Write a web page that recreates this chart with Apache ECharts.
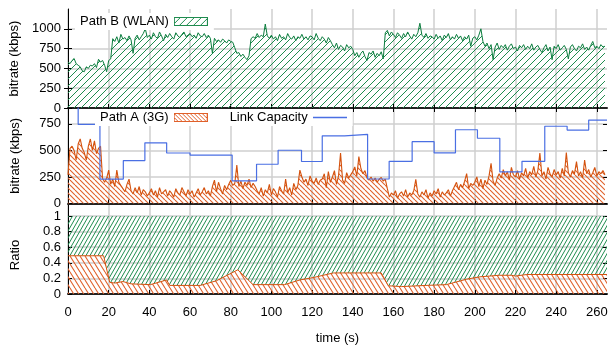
<!DOCTYPE html>
<html>
<head>
<meta charset="utf-8">
<script src="https://cdn.jsdelivr.net/npm/echarts@6/dist/echarts.min.js"></script>
<style>
html, body { margin: 0; padding: 0; background: #fff; }
#chart { width: 613px; height: 346px; }
</style>
</head>
<body>
<div id="chart"></div>
<script>
// one sample per second, t = 0 .. 264
var wlanKbps = [
    580, 560, 600, 625, 560, 540, 520, 470, 458, 520, 500, 540, 530, 560, 510, 615, 580, 600, 540, 458, 600, 620,
    875, 840, 900, 820, 930, 870, 890, 850, 910, 860, 690, 880, 920, 860, 900, 940, 1000, 890,
    920, 870, 950, 900, 880, 960, 910, 850, 930, 890, 940, 900, 870, 950, 910, 890, 930, 960, 900, 920,
    940, 900, 920, 880, 950, 910, 900, 940, 890, 920, 880, 690, 880, 840, 860, 830, 870, 850, 820, 860, 840, 830,
    760, 690, 700, 650, 680, 640, 610, 660,
    875, 900, 880, 940, 890, 920, 900, 1060, 910, 880,
    920, 870, 900, 850, 930, 880, 900, 860, 940, 890, 870, 910, 850, 900, 880, 930, 870, 900, 860, 910,
    900, 860, 940, 880, 850, 900, 870, 820, 890, 850,
    800, 760, 820, 740, 790, 770, 720, 800, 760, 780,
    740, 660, 700, 640, 690, 720, 650, 600, 700, 680, 720, 640, 690, 660, 710, 620,
    950, 980, 910, 960, 930, 890, 950, 920, 880, 940, 900, 960, 910, 870, 930, 900, 950, 1070, 920, 890, 940, 880, 910,
    900, 870, 930, 880, 910, 850, 920, 890, 940, 860, 900, 870, 930, 880, 910, 850, 900, 870, 920, 780, 880, 900, 860, 920, 1000,
    840, 780, 820, 750, 800, 610, 770, 820, 740, 790, 760, 800, 730, 780, 810, 750, 770, 720, 790, 760,
    800, 740, 780, 750, 810, 730, 770, 790, 740, 700, 760, 800, 720, 770, 610, 780, 750, 800, 730, 760,
    790, 740, 620, 770, 800, 750, 720, 780, 760, 810, 740, 770, 730, 790, 840, 760, 780, 750, 800, 770, 780
];
var g3Kbps = [
    270, 520, 540, 500, 410, 560, 608, 520, 480, 410, 540, 608, 500, 590, 470, 520, 540,
    235, 200, 240, 315, 180, 230, 160, 315, 200, 170,
    140, 110, 180, 230, 120, 90, 150, 100, 160, 80, 130, 110, 70,
    100, 140, 80, 120, 60, 150, 90, 110, 130, 70, 120, 95, 60, 140, 100, 80, 150, 110, 70, 130,
    90, 120, 60, 100, 140, 80, 110, 150, 90, 120, 70, 160, 220, 110, 200, 140, 90, 170, 130, 180,
    220, 170, 190, 362, 160, 210, 140, 200, 170, 230, 150, 190, 160,
    120, 90, 150, 70, 130, 100, 180, 80, 140, 110, 60, 160, 120, 90, 230, 100, 150, 80, 190, 130, 170, 315,
    250, 200, 230, 170, 260, 210, 190, 240, 180, 220,
    230, 280, 150, 300, 200, 250, 310, 180, 260, 475, 220, 190, 290, 240, 270,
    300, 345, 260, 442, 330, 280, 310,
    240, 220, 250, 210, 240, 200, 230, 245, 210, 230,
    140, 60, 100, 80, 120, 50, 90, 110, 70, 130, 60, 100, 80, 120, 228, 90, 60, 110, 80, 130,
    50, 100, 70, 120, 90, 140, 60, 110, 80, 100, 130, 70, 120,
    160, 200, 130, 180, 150, 210, 282, 140, 190, 170,
    200, 250, 160, 230, 140, 220, 180, 260, 378, 210, 170, 240,
    280, 240, 320, 260, 300, 220, 340, 270, 250, 310, 230, 290, 260, 330, 240, 300, 270, 350, 250, 310,
    475, 260, 300, 230, 340, 280, 250, 320, 270, 300, 240, 330, 260, 480, 290, 250, 310, 280, 394, 260,
    300, 240, 410, 280, 320, 250, 290, 340, 260, 300, 280, 310, 270
];
// link capacity steps (value holds from each time on)
var capTime = [0, 5, 15.7, 27.2, 37.8, 48.5, 60, 80.7, 92.7, 103.3, 114.8, 125, 136, 147.3, 157.9, 169.2, 180, 190.5, 201.3, 212.3, 223.2, 234.4, 245.4, 256, 265];
var capKbps = [1000, 745, 230, 405, 572, 476, 456, 214, 370, 502, 396, 638, 652, 231, 397, 583, 478, 695, 615, 298, 397, 728, 692, 786, 786];
// share of path A (3G); path B fills the rest up to 1
var ratioTime = [0, 17.5, 20.5, 23, 27, 31, 40.5, 48.5, 50, 65, 73, 83.5, 91, 106.5, 114, 120.5, 130.5, 154, 157.5, 164, 176, 186, 196, 202.5, 212, 218, 220, 225.5, 265];
var ratioA = [0.49, 0.49, 0.15, 0.14, 0.16, 0.13, 0.12, 0.18, 0.11, 0.11, 0.17, 0.31, 0.12, 0.12, 0.18, 0.21, 0.27, 0.27, 0.105, 0.095, 0.11, 0.12, 0.19, 0.22, 0.24, 0.24, 0.23, 0.25, 0.25];

var xTicks = [0, 20, 40, 60, 80, 100, 120, 140, 160, 180, 200, 220, 240, 260];
var y1Ticks = [0, 250, 500, 750, 1000];
var y2Ticks = [0, 250, 500, 750];
var y3Ticks = [0, 0.2, 0.4, 0.6, 0.8, 1];

var FONT = 'Liberation Sans';
var GREEN = '#0b7d3e';
var ORANGE = '#d4520e';
var BLUE = '#4a6fe3';
var HGREEN = '#1f8c4f';
var HORANGE = '#e0602a';

// diagonal hatch tile, dir 1 = '/', -1 = '\'
function hatch(color, w, h, dir, lw) {
    var c = document.createElement('canvas');
    c.width = w; c.height = h;
    var ctx = c.getContext('2d');
    ctx.strokeStyle = color;
    ctx.lineWidth = lw;
    for (var k = -1; k <= 1; k++) {
        ctx.beginPath();
        if (dir > 0) { ctx.moveTo(k * w, h); ctx.lineTo(k * w + w, 0); }
        else { ctx.moveTo(k * w, 0); ctx.lineTo(k * w + w, h); }
        ctx.stroke();
    }
    return c;
}
function swatch(color, w, h, dir) {
    var c = document.createElement('canvas');
    c.width = 34; c.height = 9;
    var ctx = c.getContext('2d');
    ctx.fillStyle = ctx.createPattern(hatch(color, w, h, dir, 1), 'repeat');
    ctx.fillRect(0, 0, 34, 9);
    ctx.strokeStyle = color;
    ctx.lineWidth = 1;
    ctx.strokeRect(0.5, 0.5, 33, 8);
    return 'image://' + c.toDataURL();
}
function lineIcon(color) {
    var c = document.createElement('canvas');
    c.width = 34; c.height = 9;
    var ctx = c.getContext('2d');
    ctx.strokeStyle = color;
    ctx.lineWidth = 1.3;
    ctx.beginPath(); ctx.moveTo(0, 4.5); ctx.lineTo(34, 4.5); ctx.stroke();
    return 'image://' + c.toDataURL();
}

var wlanData = wlanKbps.map(function (v, i) { return [i, v]; });
var g3Data = g3Kbps.map(function (v, i) { return [i, v]; });
var capData = capKbps.map(function (v, i) { return [capTime[i], v]; });
var ratioData = ratioA.map(function (v, i) { return [ratioTime[i], v]; });

var txt = { fontFamily: FONT, fontSize: 13, color: '#000' };
var grids = [
    { left: 68, right: 6, top: 9, height: 99 },
    { left: 68, right: 6, top: 108, height: 95.5 },
    { left: 68, right: 6, top: 216, height: 83 },
    { left: 68, right: 6, top: 204, height: 12 }   // empty band above ratio 1
];

function noFmt(v) { return String(v); }

function xAxisFor(g, withLabels) {
    return {
        type: 'value', gridIndex: g, min: 0, max: 265, interval: 20,
        name: withLabels ? 'time (s)' : '', nameLocation: 'middle', nameGap: 38,
        nameTextStyle: txt,
        axisLine: { show: true, onZero: false, lineStyle: { color: '#222', width: 2 } },
        axisTick: { show: true, inside: true, length: 4, customValues: xTicks, lineStyle: { color: '#000' } },
        axisLabel: { show: withLabels, customValues: xTicks, margin: 12, fontFamily: FONT, fontSize: 13, color: '#000', formatter: noFmt },
        splitLine: { show: true, lineStyle: { color: '#cfcfcf', width: 1.5 } }
    };
}
function yLeft(g, max, interval, ticks, name) {
    return {
        type: 'value', gridIndex: g, min: 0, max: max, interval: interval,
        name: name, nameLocation: 'middle', nameGap: 46, nameTextStyle: txt,
        axisLine: { show: true, lineStyle: { color: '#000', width: 1 } },
        axisTick: { show: true, inside: true, length: 4, customValues: ticks, lineStyle: { color: '#000' } },
        axisLabel: { customValues: ticks, margin: 7, fontFamily: FONT, fontSize: 13, color: '#000', formatter: noFmt },
        splitLine: { show: true, lineStyle: { color: '#cfcfcf', width: 1.5 } }
    };
}
function yRight(g, max, interval, ticks) {
    return {
        type: 'value', gridIndex: g, position: 'right', min: 0, max: max, interval: interval,
        axisLine: { show: false },
        axisTick: { show: true, inside: true, length: 4, customValues: ticks, lineStyle: { color: '#000' } },
        axisLabel: { show: false },
        splitLine: { show: false }
    };
}

var chart = echarts.init(document.getElementById('chart'));
chart.setOption({
    animation: false,
    backgroundColor: '#fff',
    grid: grids,
    xAxis: [
        xAxisFor(0, false),
        xAxisFor(1, false),
        xAxisFor(2, true),
        {
            type: 'value', gridIndex: 0, position: 'top', min: 0, max: 265, interval: 20,
            axisLine: { show: false },
            axisTick: { show: true, inside: true, length: 4, customValues: xTicks, lineStyle: { color: '#000' } },
            axisLabel: { show: false }, splitLine: { show: false }
        },
        {
            type: 'value', gridIndex: 3, min: 0, max: 265, interval: 20,
            axisLine: { show: false },
            axisTick: { show: false, customValues: xTicks },
            axisLabel: { show: false },
            splitLine: { show: true, lineStyle: { color: '#cfcfcf', width: 1.5 } }
        }
    ],
    yAxis: [
        yLeft(0, 1250, 250, y1Ticks, 'bitrate (kbps)'),
        yLeft(1, 900, 250, y2Ticks, 'bitrate (kbps)'),
        yLeft(2, 1, 0.2, y3Ticks, 'Ratio'),
        yRight(0, 1250, 250, y1Ticks),
        yRight(1, 900, 250, y2Ticks),
        yRight(2, 1, 0.2, y3Ticks),
        {
            type: 'value', gridIndex: 3, min: 0, max: 1,
            axisLine: { show: true, lineStyle: { color: '#000', width: 1 } },
            axisTick: { show: false }, axisLabel: { show: false }, splitLine: { show: false }
        }
    ],
    legend: [
        {
            data: [{ name: 'Path B (WLAN)', icon: swatch(HGREEN, 7, 7, 1) }],
            left: 75, top: 13, align: 'right', itemWidth: 34, itemHeight: 9,
            backgroundColor: '#fff', padding: [2, 6, 2, 5], textStyle: txt
        },
        {
            data: [{ name: 'Path A (3G)', icon: swatch(HORANGE, 4, 4, -1) }, { name: 'Link Capacity', icon: lineIcon(BLUE) }],
            left: 95, top: 109, align: 'right', itemWidth: 34, itemHeight: 9, itemGap: 22,
            backgroundColor: '#fff', padding: [2, 6, 2, 5], textStyle: txt
        }
    ],
    series: [
        {
            name: 'Path B (WLAN)', type: 'line', xAxisIndex: 0, yAxisIndex: 0, data: wlanData,
            symbol: 'none', lineStyle: { color: GREEN, width: 1 }, itemStyle: { color: GREEN },
            areaStyle: { color: { image: hatch(HGREEN, 7, 7, 1, 1), repeat: 'repeat' }, opacity: 1 }
        },
        {
            name: 'Path A (3G)', type: 'line', xAxisIndex: 1, yAxisIndex: 1, data: g3Data,
            symbol: 'none', lineStyle: { color: ORANGE, width: 1.1 }, itemStyle: { color: ORANGE },
            areaStyle: { color: { image: hatch(HORANGE, 5, 5, -1, 1.1), repeat: 'repeat' }, opacity: 1 }
        },
        {
            name: 'Link Capacity', type: 'line', xAxisIndex: 1, yAxisIndex: 1, data: capData,
            step: 'end', symbol: 'none', lineStyle: { color: BLUE, width: 1.2 }, itemStyle: { color: BLUE }
        },
        {
            // path B share: from path A's boundary up to 1
            name: 'ratioB', type: 'line', xAxisIndex: 2, yAxisIndex: 2, data: ratioData,
            symbol: 'none', lineStyle: { width: 0 }, itemStyle: { color: GREEN },
            areaStyle: { origin: 'end', color: { image: hatch(HGREEN, 4, 7, 1, 1), repeat: 'repeat' }, opacity: 1 }
        },
        {
            name: 'ratioA', type: 'line', xAxisIndex: 2, yAxisIndex: 2, data: ratioData,
            symbol: 'none', lineStyle: { color: ORANGE, width: 1 }, itemStyle: { color: ORANGE },
            areaStyle: { origin: 'start', color: { image: hatch(HORANGE, 5, 8, -1, 1.1), repeat: 'repeat' }, opacity: 1 }
        }
    ]
});
</script>
</body>
</html>
